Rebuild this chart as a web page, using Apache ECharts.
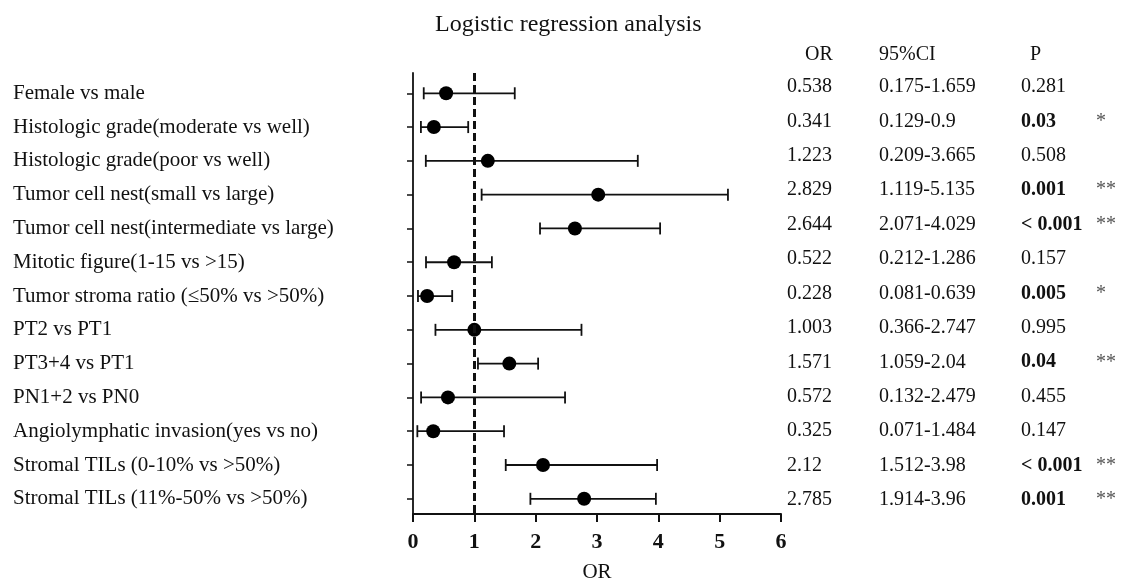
<!DOCTYPE html>
<html>
<head>
<meta charset="utf-8">
<script src="https://cdn.jsdelivr.net/npm/echarts@6/dist/echarts.min.js"></script>
<style>html,body{margin:0;padding:0;background:#fff;}#c{width:1124px;height:579px;}</style>
</head>
<body>
<div id="c"></div>
<script>
// ---- data ----
const categories = [
  'Female vs male',
  'Histologic grade(moderate vs well)',
  'Histologic grade(poor vs well)',
  'Tumor cell nest(small vs large)',
  'Tumor cell nest(intermediate vs large)',
  'Mitotic figure(1-15 vs >15)',
  'Tumor stroma ratio (≤50% vs >50%)',
  'PT2 vs PT1',
  'PT3+4 vs PT1',
  'PN1+2 vs PN0',
  'Angiolymphatic invasion(yes vs no)',
  'Stromal TILs (0-10% vs >50%)',
  'Stromal TILs (11%-50% vs >50%)'
];
// plotted estimates
const orPlot   = [0.54, 0.34, 1.22, 3.02, 2.64, 0.67, 0.23, 1.00, 1.57, 0.57, 0.33, 2.12, 2.79];
const ciLow    = [0.175, 0.129, 0.209, 1.119, 2.071, 0.212, 0.081, 0.366, 1.059, 0.132, 0.071, 1.512, 1.914];
const ciHigh   = [1.659, 0.9, 3.665, 5.135, 4.029, 1.286, 0.639, 2.747, 2.04, 2.479, 1.484, 3.98, 3.96];
// table columns
const orText = ['0.538','0.341','1.223','2.829','2.644','0.522','0.228','1.003','1.571','0.572','0.325','2.12','2.785'];
const ciText = ['0.175-1.659','0.129-0.9','0.209-3.665','1.119-5.135','2.071-4.029','0.212-1.286','0.081-0.639','0.366-2.747','1.059-2.04','0.132-2.479','0.071-1.484','1.512-3.98','1.914-3.96'];
const pText  = ['0.281','0.03','0.508','0.001','< 0.001','0.157','0.005','0.995','0.04','0.455','0.147','< 0.001','0.001'];
const stars  = ['','*','','**','**','','*','','**','','','**','**'];
const xTicks = [0, 1, 2, 3, 4, 5, 6];
const refLine = 1;

const rows = categories.map((_, i) => i + 1);
const FONT = "'Liberation Serif','Times New Roman',serif";
const INK = '#111';

const chart = echarts.init(document.getElementById('c'), null, {renderer: 'canvas'});

const option = {
  backgroundColor: '#fff',
  animation: false,
  title: [
    {text: 'Logistic regression analysis', left: 435, top: 13, padding: 0,
     textStyle: {fontFamily: FONT, fontSize: 24, fontWeight: 'normal', color: INK}},
    {text: 'OR', left: 805, top: 45, padding: 0,
     textStyle: {fontFamily: FONT, fontSize: 20, fontWeight: 'normal', color: INK}},
    {text: '95%CI', left: 879, top: 45, padding: 0,
     textStyle: {fontFamily: FONT, fontSize: 20, fontWeight: 'normal', color: INK}},
    {text: 'P', left: 1030, top: 45, padding: 0,
     textStyle: {fontFamily: FONT, fontSize: 20, fontWeight: 'normal', color: INK}}
  ],
  grid: {left: 413, right: 343, top: 73, bottom: 65, containLabel: false, outerBoundsMode: 'none'},
  xAxis: {
    type: 'value', min: xTicks[0], max: xTicks[xTicks.length - 1], interval: 1,
    name: 'OR', nameLocation: 'middle', nameGap: 48,
    nameTextStyle: {fontFamily: FONT, fontSize: 21, color: INK},
    axisLine: {show: true, lineStyle: {color: INK, width: 2}},
    axisTick: {show: true, length: 8, lineStyle: {color: INK, width: 2}},
    axisLabel: {fontFamily: FONT, fontSize: 22, fontWeight: 'bold', color: INK, margin: 17},
    splitLine: {show: false}
  },
  yAxis: [
    {
      type: 'value', inverse: true, min: 0.4, max: 13.45,
      axisLine: {show: true, onZero: false, lineStyle: {color: INK, width: 1.8}},
      axisTick: {show: true, length: 6, customValues: rows, lineStyle: {color: INK, width: 1.5}},
      axisLabel: {
        customValues: rows, align: 'left', margin: 400,
        fontFamily: FONT, fontSize: 21, color: INK,
        formatter: v => categories[Math.round(v) - 1] || ''
      },
      splitLine: {show: false}
    },
    {
      type: 'value', inverse: true, position: 'right', min: 0.593, max: 13.41,
      axisLine: {show: false}, axisTick: {show: false}, splitLine: {show: false},
      axisLabel: {
        customValues: rows, align: 'left', margin: 6,
        fontFamily: FONT, fontSize: 20, color: INK,
        formatter: v => {
          const i = Math.round(v) - 1;
          if (i < 0 || i >= rows.length) return '';
          const pStyle = stars[i] ? 'pb' : 'p';
          return '{o|' + orText[i] + '}{c|' + ciText[i] + '}{' + pStyle + '|' + pText[i] + '}' +
                 (stars[i] ? '{s|' + stars[i] + '}' : '');
        },
        rich: {
          o: {width: 92, fontFamily: FONT, fontSize: 20, color: INK},
          c: {width: 142, fontFamily: FONT, fontSize: 20, color: INK},
          p: {width: 75, fontFamily: FONT, fontSize: 20, color: INK},
          pb: {width: 75, fontFamily: FONT, fontSize: 20, fontWeight: 'bold', color: INK},
          s: {fontFamily: FONT, fontSize: 20, color: '#555'}
        }
      }
    }
  ],
  series: [
    {
      type: 'custom', z: 2,
      data: rows.map((r, i) => [ciLow[i], r, ciHigh[i]]),
      encode: {x: [0, 2], y: 1},
      renderItem: (params, api) => {
        const y = api.value(1);
        const p1 = api.coord([api.value(0), y]);
        const p2 = api.coord([api.value(2), y]);
        const h = 6;
        const st = {stroke: INK, lineWidth: 1.8};
        return {type: 'group', children: [
          {type: 'line', shape: {x1: p1[0], y1: p1[1], x2: p2[0], y2: p2[1]}, style: st},
          {type: 'line', shape: {x1: p1[0], y1: p1[1] - h, x2: p1[0], y2: p1[1] + h}, style: st},
          {type: 'line', shape: {x1: p2[0], y1: p2[1] - h, x2: p2[0], y2: p2[1] + h}, style: st}
        ]};
      },
      markLine: {
        silent: true, symbol: 'none', label: {show: false},
        lineStyle: {type: [8, 4], width: 3, color: INK},
        data: [{xAxis: refLine}]
      }
    },
    {
      type: 'scatter', z: 4, symbol: 'circle', symbolSize: 14,
      itemStyle: {color: '#000', opacity: 1},
      data: rows.map((r, i) => [orPlot[i], r])
    }
  ]
};
chart.setOption(option);
</script>
</body>
</html>
